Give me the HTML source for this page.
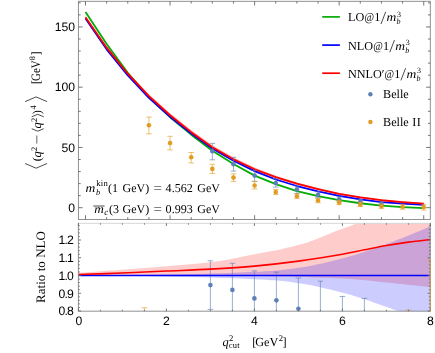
<!DOCTYPE html>
<html><head><meta charset="utf-8"><title>plot</title><style>html,body{margin:0;padding:0;background:#fff}svg{display:block;will-change:transform}text{text-rendering:geometricPrecision}</style></head><body>
<svg width="435" height="353" viewBox="0 0 435 353">
<rect width="435" height="353" fill="#fff"/>
<defs><clipPath id="cb"><rect x="78.40" y="223.30" width="351.90" height="87.90"/></clipPath></defs>
<path clip-path="url(#cb)" d="M78.40,272.66 C85.73,272.16 107.73,270.71 122.40,269.64 C137.07,268.58 151.73,267.51 166.40,266.27 C181.07,265.03 199.40,263.44 210.40,262.19 C221.40,260.93 225.07,260.06 232.40,258.73 C239.73,257.39 247.07,255.62 254.40,254.20 C261.73,252.78 269.07,251.74 276.40,250.21 C283.73,248.67 292.68,246.46 298.40,244.97 C304.12,243.48 305.22,243.25 310.72,241.24 C316.22,239.23 324.51,235.56 331.40,232.90 C338.29,230.24 347.61,226.95 352.08,225.27 C356.55,223.58 352.52,225.06 358.24,222.78 C363.96,220.50 374.37,216.42 386.40,211.60 C398.43,206.78 423.07,196.81 430.40,193.85 L430.40,287.21 C423.07,286.45 399.60,283.96 386.40,282.60 C373.20,281.24 363.08,279.91 351.20,279.05 C339.32,278.19 323.92,277.81 315.12,277.45 C306.32,277.10 308.52,277.16 298.40,276.92 C288.28,276.68 269.07,276.27 254.40,276.03 C239.73,275.80 225.07,275.59 210.40,275.50 C195.73,275.41 188.40,275.41 166.40,275.50 C144.40,275.59 93.07,275.94 78.40,276.03 Z" fill="rgba(255,0,0,0.2)"/>
<path clip-path="url(#cb)" d="M78.40,275.14 C85.73,275.12 107.73,275.06 122.40,274.97 C137.07,274.88 151.73,274.85 166.40,274.61 C181.07,274.38 195.73,274.02 210.40,273.55 C225.07,273.07 242.81,272.33 254.40,271.77 C265.99,271.21 272.59,270.83 279.92,270.18 C287.25,269.52 292.46,268.75 298.40,267.87 C304.34,266.98 306.76,266.83 315.56,264.85 C324.36,262.87 339.32,259.47 351.20,255.97 C363.08,252.48 378.77,246.72 386.84,243.91 C394.91,241.09 393.66,241.48 399.60,239.11 C405.54,236.75 417.35,231.83 422.48,229.70 C427.61,227.57 427.61,227.57 430.40,226.33 C433.19,225.09 437.73,222.93 439.20,222.25 L439.20,328.75 C437.73,328.07 433.19,325.91 430.40,324.67 C427.61,323.43 427.61,323.43 422.48,321.30 C417.35,319.17 405.54,314.25 399.60,311.89 C393.66,309.52 394.91,309.91 386.84,307.09 C378.77,304.28 363.08,298.52 351.20,295.02 C339.32,291.53 324.36,288.13 315.56,286.15 C306.76,284.17 304.34,284.02 298.40,283.13 C292.46,282.25 287.25,281.48 279.92,280.82 C272.59,280.17 265.99,279.79 254.40,279.23 C242.81,278.67 225.07,277.93 210.40,277.45 C195.73,276.98 181.07,276.62 166.40,276.39 C151.73,276.15 137.07,276.12 122.40,276.03 C107.73,275.94 85.73,275.88 78.40,275.86 Z" fill="rgba(0,0,255,0.2)"/>
<g stroke="#5E81B5" stroke-width="0.75" stroke-opacity="0.85" fill="none" clip-path="url(#cb)"><line x1="210.40" y1="260.77" x2="210.40" y2="309.40"/><line x1="207.60" y1="260.77" x2="213.20" y2="260.77"/><line x1="207.60" y1="309.40" x2="213.20" y2="309.40"/></g>
<circle cx="210.40" cy="285.09" r="2.3" fill="#5E81B5" clip-path="url(#cb)"/>
<g stroke="#5E81B5" stroke-width="0.75" stroke-opacity="0.85" fill="none" clip-path="url(#cb)"><line x1="232.40" y1="263.25" x2="232.40" y2="328.75"/><line x1="229.60" y1="263.25" x2="235.20" y2="263.25"/><line x1="229.60" y1="328.75" x2="235.20" y2="328.75"/></g>
<circle cx="232.40" cy="289.88" r="2.3" fill="#5E81B5" clip-path="url(#cb)"/>
<g stroke="#5E81B5" stroke-width="0.75" stroke-opacity="0.85" fill="none" clip-path="url(#cb)"><line x1="254.40" y1="270.88" x2="254.40" y2="328.75"/><line x1="251.60" y1="270.88" x2="257.20" y2="270.88"/><line x1="251.60" y1="328.75" x2="257.20" y2="328.75"/></g>
<circle cx="254.40" cy="298.40" r="2.3" fill="#5E81B5" clip-path="url(#cb)"/>
<g stroke="#5E81B5" stroke-width="0.75" stroke-opacity="0.85" fill="none" clip-path="url(#cb)"><line x1="276.40" y1="272.13" x2="276.40" y2="328.75"/><line x1="273.60" y1="272.13" x2="279.20" y2="272.13"/><line x1="273.60" y1="328.75" x2="279.20" y2="328.75"/></g>
<circle cx="276.40" cy="300.35" r="2.3" fill="#5E81B5" clip-path="url(#cb)"/>
<g stroke="#5E81B5" stroke-width="0.75" stroke-opacity="0.85" fill="none" clip-path="url(#cb)"><line x1="298.40" y1="277.99" x2="298.40" y2="328.75"/><line x1="295.60" y1="277.99" x2="301.20" y2="277.99"/><line x1="295.60" y1="328.75" x2="301.20" y2="328.75"/></g>
<circle cx="298.40" cy="308.69" r="2.3" fill="#5E81B5" clip-path="url(#cb)"/>
<g stroke="#5E81B5" stroke-width="0.75" stroke-opacity="0.85" fill="none" clip-path="url(#cb)"><line x1="320.40" y1="281.18" x2="320.40" y2="346.50"/><line x1="317.60" y1="281.18" x2="323.20" y2="281.18"/><line x1="317.60" y1="346.50" x2="323.20" y2="346.50"/></g>
<g stroke="#5E81B5" stroke-width="0.75" stroke-opacity="0.85" fill="none" clip-path="url(#cb)"><line x1="342.40" y1="296.44" x2="342.40" y2="346.50"/><line x1="339.60" y1="296.44" x2="345.20" y2="296.44"/><line x1="339.60" y1="346.50" x2="345.20" y2="346.50"/></g>
<g stroke="#5E81B5" stroke-width="0.75" stroke-opacity="0.85" fill="none" clip-path="url(#cb)"><line x1="364.40" y1="298.40" x2="364.40" y2="346.50"/><line x1="361.60" y1="298.40" x2="367.20" y2="298.40"/><line x1="361.60" y1="346.50" x2="367.20" y2="346.50"/></g>
<g stroke="#E19C24" stroke-width="0.75" stroke-opacity="0.85" fill="none" clip-path="url(#cb)"><line x1="144.40" y1="307.70" x2="144.40" y2="328.75"/><line x1="141.60" y1="307.70" x2="147.20" y2="307.70"/><line x1="141.60" y1="328.75" x2="147.20" y2="328.75"/></g>
<g stroke="#E19C24" stroke-width="0.75" stroke-opacity="0.85" fill="none" clip-path="url(#cb)"><line x1="408.40" y1="310.00" x2="408.40" y2="328.75"/><line x1="405.60" y1="310.00" x2="411.20" y2="310.00"/><line x1="405.60" y1="328.75" x2="411.20" y2="328.75"/></g>
<line x1="78.40" y1="275.50" x2="430.40" y2="275.50" stroke="#0000ff" stroke-width="1.6"/>
<path d="M78.40,274.44 C85.73,274.20 107.73,273.58 122.40,273.01 C137.07,272.45 151.73,271.71 166.40,271.06 C181.07,270.41 195.73,269.94 210.40,269.11 C225.07,268.28 239.73,267.42 254.40,266.09 C269.07,264.76 283.73,263.10 298.40,261.12 C313.07,259.14 331.40,256.09 342.40,254.20 C353.40,252.31 357.07,251.21 364.40,249.76 C371.73,248.31 379.07,246.77 386.40,245.50 C393.73,244.23 401.07,243.14 408.40,242.13 C415.73,241.12 426.73,239.91 430.40,239.47" fill="none" stroke="#ff0000" stroke-width="1.6"/>
<polygon points="85.50,16.35 106.64,46.47 127.78,72.14 148.92,94.19 170.06,113.23 191.20,130.10 212.34,145.16 233.48,157.33 254.62,167.45 275.76,175.65 296.90,182.39 318.04,187.94 339.18,192.88 360.32,196.61 381.46,199.51 402.60,201.43 423.74,203.00 423.74,204.21 402.60,202.64 381.46,200.95 360.32,198.30 339.18,194.81 318.04,190.11 296.90,185.05 275.76,178.78 254.62,171.07 233.48,161.19 212.34,149.26 191.20,134.19 170.06,117.32 148.92,98.04 127.78,75.27 106.64,48.88 85.50,18.27" fill="rgba(255,0,0,0.28)"/>
<path d="M85.50,11.89 L106.64,43.94 L127.78,72.74 L148.92,97.32 L170.06,117.20 L191.20,134.68 L212.34,150.70 L233.48,164.08 L254.62,175.65 L275.76,184.08 L296.90,191.07 L318.04,196.13 L339.18,200.23 L360.32,203.24 L381.46,205.53 L402.60,207.10 L423.74,208.06" fill="none" stroke="#05ab05" stroke-width="1.8" stroke-linejoin="round"/>
<path d="M85.50,18.39 L106.64,49.36 L127.78,75.39 L148.92,97.80 L170.06,116.84 L191.20,133.59 L212.34,148.53 L233.48,160.70 L254.62,171.07 L275.76,179.50 L296.90,186.01 L318.04,191.31 L339.18,195.77 L360.32,199.39 L381.46,202.04 L402.60,203.72 L423.74,204.81" fill="none" stroke="#0000ff" stroke-width="1.8" stroke-linejoin="round"/>
<path d="M85.50,17.31 L106.64,47.68 L127.78,73.70 L148.92,96.12 L170.06,115.28 L191.20,132.15 L212.34,147.21 L233.48,159.26 L254.62,169.26 L275.76,177.21 L296.90,183.72 L318.04,189.02 L339.18,193.84 L360.32,197.46 L381.46,200.23 L402.60,202.04 L423.74,203.60" fill="none" stroke="#ff0000" stroke-width="1.8" stroke-linejoin="round"/>
<g stroke="#5E81B5" stroke-width="0.75" stroke-opacity="0.85" fill="none"><line x1="212.34" y1="143.40" x2="212.34" y2="159.80"/><line x1="209.54" y1="143.40" x2="215.14" y2="143.40"/><line x1="209.54" y1="159.80" x2="215.14" y2="159.80"/></g>
<circle cx="212.34" cy="151.30" r="2.3" fill="#5E81B5"/>
<g stroke="#5E81B5" stroke-width="0.75" stroke-opacity="0.85" fill="none"><line x1="233.48" y1="157.30" x2="233.48" y2="171.10"/><line x1="230.68" y1="157.30" x2="236.28" y2="157.30"/><line x1="230.68" y1="171.10" x2="236.28" y2="171.10"/></g>
<circle cx="233.48" cy="164.30" r="2.3" fill="#5E81B5"/>
<g stroke="#5E81B5" stroke-width="0.75" stroke-opacity="0.85" fill="none"><line x1="254.62" y1="170.30" x2="254.62" y2="181.40"/><line x1="251.82" y1="170.30" x2="257.42" y2="170.30"/><line x1="251.82" y1="181.40" x2="257.42" y2="181.40"/></g>
<circle cx="254.62" cy="175.60" r="2.3" fill="#5E81B5"/>
<g stroke="#5E81B5" stroke-width="0.75" stroke-opacity="0.85" fill="none"><line x1="275.76" y1="178.60" x2="275.76" y2="187.10"/><line x1="272.96" y1="178.60" x2="278.56" y2="178.60"/><line x1="272.96" y1="187.10" x2="278.56" y2="187.10"/></g>
<circle cx="275.76" cy="183.00" r="2.3" fill="#5E81B5"/>
<g stroke="#5E81B5" stroke-width="0.75" stroke-opacity="0.85" fill="none"><line x1="296.90" y1="186.00" x2="296.90" y2="193.60"/><line x1="294.10" y1="186.00" x2="299.70" y2="186.00"/><line x1="294.10" y1="193.60" x2="299.70" y2="193.60"/></g>
<circle cx="296.90" cy="189.40" r="2.3" fill="#5E81B5"/>
<g stroke="#5E81B5" stroke-width="0.75" stroke-opacity="0.85" fill="none"><line x1="318.04" y1="191.70" x2="318.04" y2="197.70"/><line x1="315.24" y1="191.70" x2="320.84" y2="191.70"/><line x1="315.24" y1="197.70" x2="320.84" y2="197.70"/></g>
<circle cx="318.04" cy="194.70" r="2.3" fill="#5E81B5"/>
<g stroke="#5E81B5" stroke-width="0.75" stroke-opacity="0.85" fill="none"><line x1="339.18" y1="196.80" x2="339.18" y2="201.80"/><line x1="336.38" y1="196.80" x2="341.98" y2="196.80"/><line x1="336.38" y1="201.80" x2="341.98" y2="201.80"/></g>
<circle cx="339.18" cy="199.30" r="2.3" fill="#5E81B5"/>
<g stroke="#5E81B5" stroke-width="0.75" stroke-opacity="0.85" fill="none"><line x1="360.32" y1="199.50" x2="360.32" y2="203.50"/><line x1="357.52" y1="199.50" x2="363.12" y2="199.50"/><line x1="357.52" y1="203.50" x2="363.12" y2="203.50"/></g>
<circle cx="360.32" cy="201.50" r="2.3" fill="#5E81B5"/>
<g stroke="#5E81B5" stroke-width="0.75" stroke-opacity="0.85" fill="none"><line x1="381.46" y1="201.90" x2="381.46" y2="205.90"/><line x1="378.66" y1="201.90" x2="384.26" y2="201.90"/><line x1="378.66" y1="205.90" x2="384.26" y2="205.90"/></g>
<circle cx="381.46" cy="203.90" r="2.3" fill="#5E81B5"/>
<g stroke="#E19C24" stroke-width="0.75" stroke-opacity="0.85" fill="none"><line x1="148.92" y1="117.10" x2="148.92" y2="133.80"/><line x1="146.12" y1="117.10" x2="151.72" y2="117.10"/><line x1="146.12" y1="133.80" x2="151.72" y2="133.80"/></g>
<circle cx="148.92" cy="125.30" r="2.3" fill="#E19C24"/>
<g stroke="#E19C24" stroke-width="0.75" stroke-opacity="0.85" fill="none"><line x1="170.06" y1="136.30" x2="170.06" y2="149.90"/><line x1="167.26" y1="136.30" x2="172.86" y2="136.30"/><line x1="167.26" y1="149.90" x2="172.86" y2="149.90"/></g>
<circle cx="170.06" cy="143.10" r="2.3" fill="#E19C24"/>
<g stroke="#E19C24" stroke-width="0.75" stroke-opacity="0.85" fill="none"><line x1="191.20" y1="152.50" x2="191.20" y2="162.90"/><line x1="188.40" y1="152.50" x2="194.00" y2="152.50"/><line x1="188.40" y1="162.90" x2="194.00" y2="162.90"/></g>
<circle cx="191.20" cy="157.30" r="2.3" fill="#E19C24"/>
<g stroke="#E19C24" stroke-width="0.75" stroke-opacity="0.85" fill="none"><line x1="212.34" y1="164.30" x2="212.34" y2="173.40"/><line x1="209.54" y1="164.30" x2="215.14" y2="164.30"/><line x1="209.54" y1="173.40" x2="215.14" y2="173.40"/></g>
<circle cx="212.34" cy="168.90" r="2.3" fill="#E19C24"/>
<g stroke="#E19C24" stroke-width="0.75" stroke-opacity="0.85" fill="none"><line x1="233.48" y1="173.80" x2="233.48" y2="181.40"/><line x1="230.68" y1="173.80" x2="236.28" y2="173.80"/><line x1="230.68" y1="181.40" x2="236.28" y2="181.40"/></g>
<circle cx="233.48" cy="177.60" r="2.3" fill="#E19C24"/>
<g stroke="#E19C24" stroke-width="0.75" stroke-opacity="0.85" fill="none"><line x1="254.62" y1="181.40" x2="254.62" y2="189.00"/><line x1="251.82" y1="181.40" x2="257.42" y2="181.40"/><line x1="251.82" y1="189.00" x2="257.42" y2="189.00"/></g>
<circle cx="254.62" cy="185.50" r="2.3" fill="#E19C24"/>
<g stroke="#E19C24" stroke-width="0.75" stroke-opacity="0.85" fill="none"><line x1="275.76" y1="189.40" x2="275.76" y2="194.50"/><line x1="272.96" y1="189.40" x2="278.56" y2="189.40"/><line x1="272.96" y1="194.50" x2="278.56" y2="194.50"/></g>
<circle cx="275.76" cy="192.00" r="2.3" fill="#E19C24"/>
<g stroke="#E19C24" stroke-width="0.75" stroke-opacity="0.85" fill="none"><line x1="296.90" y1="193.80" x2="296.90" y2="198.60"/><line x1="294.10" y1="193.80" x2="299.70" y2="193.80"/><line x1="294.10" y1="198.60" x2="299.70" y2="198.60"/></g>
<circle cx="296.90" cy="196.30" r="2.3" fill="#E19C24"/>
<g stroke="#E19C24" stroke-width="0.75" stroke-opacity="0.85" fill="none"><line x1="318.04" y1="198.30" x2="318.04" y2="202.70"/><line x1="315.24" y1="198.30" x2="320.84" y2="198.30"/><line x1="315.24" y1="202.70" x2="320.84" y2="202.70"/></g>
<circle cx="318.04" cy="200.50" r="2.3" fill="#E19C24"/>
<g stroke="#E19C24" stroke-width="0.75" stroke-opacity="0.85" fill="none"><line x1="339.18" y1="200.30" x2="339.18" y2="204.70"/><line x1="336.38" y1="200.30" x2="341.98" y2="200.30"/><line x1="336.38" y1="204.70" x2="341.98" y2="204.70"/></g>
<circle cx="339.18" cy="202.50" r="2.3" fill="#E19C24"/>
<g stroke="#E19C24" stroke-width="0.75" stroke-opacity="0.85" fill="none"><line x1="360.32" y1="202.20" x2="360.32" y2="206.60"/><line x1="357.52" y1="202.20" x2="363.12" y2="202.20"/><line x1="357.52" y1="206.60" x2="363.12" y2="206.60"/></g>
<circle cx="360.32" cy="204.40" r="2.3" fill="#E19C24"/>
<g stroke="#E19C24" stroke-width="0.75" stroke-opacity="0.85" fill="none"><line x1="381.46" y1="204.00" x2="381.46" y2="208.40"/><line x1="378.66" y1="204.00" x2="384.26" y2="204.00"/><line x1="378.66" y1="208.40" x2="384.26" y2="208.40"/></g>
<circle cx="381.46" cy="206.20" r="2.3" fill="#E19C24"/>
<g stroke="#E19C24" stroke-width="0.75" stroke-opacity="0.85" fill="none"><line x1="402.60" y1="204.20" x2="402.60" y2="209.20"/><line x1="399.80" y1="204.20" x2="405.40" y2="204.20"/><line x1="399.80" y1="209.20" x2="405.40" y2="209.20"/></g>
<circle cx="402.60" cy="206.70" r="2.3" fill="#E19C24"/>
<g stroke="#E19C24" stroke-width="0.75" stroke-opacity="0.85" fill="none"><line x1="423.74" y1="204.40" x2="423.74" y2="210.10"/><line x1="420.94" y1="204.40" x2="426.54" y2="204.40"/><line x1="420.94" y1="210.10" x2="426.54" y2="210.10"/></g>
<circle cx="423.74" cy="207.10" r="2.3" fill="#E19C24"/>
<rect x="78.40" y="1.30" width="351.90" height="218.15" stroke="#858585" stroke-width="0.9" fill="none"/>
<g stroke="#666666" stroke-width="0.9" fill="none">
<line x1="85.50" y1="219.45" x2="85.50" y2="215.25"/>
<line x1="85.50" y1="1.30" x2="85.50" y2="5.50"/>
<line x1="106.64" y1="219.45" x2="106.64" y2="217.15"/>
<line x1="106.64" y1="1.30" x2="106.64" y2="3.60"/>
<line x1="127.78" y1="219.45" x2="127.78" y2="217.15"/>
<line x1="127.78" y1="1.30" x2="127.78" y2="3.60"/>
<line x1="148.92" y1="219.45" x2="148.92" y2="217.15"/>
<line x1="148.92" y1="1.30" x2="148.92" y2="3.60"/>
<line x1="170.06" y1="219.45" x2="170.06" y2="215.25"/>
<line x1="170.06" y1="1.30" x2="170.06" y2="5.50"/>
<line x1="191.20" y1="219.45" x2="191.20" y2="217.15"/>
<line x1="191.20" y1="1.30" x2="191.20" y2="3.60"/>
<line x1="212.34" y1="219.45" x2="212.34" y2="217.15"/>
<line x1="212.34" y1="1.30" x2="212.34" y2="3.60"/>
<line x1="233.48" y1="219.45" x2="233.48" y2="217.15"/>
<line x1="233.48" y1="1.30" x2="233.48" y2="3.60"/>
<line x1="254.62" y1="219.45" x2="254.62" y2="215.25"/>
<line x1="254.62" y1="1.30" x2="254.62" y2="5.50"/>
<line x1="275.76" y1="219.45" x2="275.76" y2="217.15"/>
<line x1="275.76" y1="1.30" x2="275.76" y2="3.60"/>
<line x1="296.90" y1="219.45" x2="296.90" y2="217.15"/>
<line x1="296.90" y1="1.30" x2="296.90" y2="3.60"/>
<line x1="318.04" y1="219.45" x2="318.04" y2="217.15"/>
<line x1="318.04" y1="1.30" x2="318.04" y2="3.60"/>
<line x1="339.18" y1="219.45" x2="339.18" y2="215.25"/>
<line x1="339.18" y1="1.30" x2="339.18" y2="5.50"/>
<line x1="360.32" y1="219.45" x2="360.32" y2="217.15"/>
<line x1="360.32" y1="1.30" x2="360.32" y2="3.60"/>
<line x1="381.46" y1="219.45" x2="381.46" y2="217.15"/>
<line x1="381.46" y1="1.30" x2="381.46" y2="3.60"/>
<line x1="402.60" y1="219.45" x2="402.60" y2="217.15"/>
<line x1="402.60" y1="1.30" x2="402.60" y2="3.60"/>
<line x1="423.74" y1="219.45" x2="423.74" y2="215.25"/>
<line x1="423.74" y1="1.30" x2="423.74" y2="5.50"/>
<line x1="78.40" y1="207.70" x2="82.60" y2="207.70"/>
<line x1="430.30" y1="207.70" x2="426.10" y2="207.70"/>
<line x1="78.40" y1="195.65" x2="80.70" y2="195.65"/>
<line x1="430.30" y1="195.65" x2="428.00" y2="195.65"/>
<line x1="78.40" y1="183.60" x2="80.70" y2="183.60"/>
<line x1="430.30" y1="183.60" x2="428.00" y2="183.60"/>
<line x1="78.40" y1="171.55" x2="80.70" y2="171.55"/>
<line x1="430.30" y1="171.55" x2="428.00" y2="171.55"/>
<line x1="78.40" y1="159.50" x2="80.70" y2="159.50"/>
<line x1="430.30" y1="159.50" x2="428.00" y2="159.50"/>
<line x1="78.40" y1="147.45" x2="82.60" y2="147.45"/>
<line x1="430.30" y1="147.45" x2="426.10" y2="147.45"/>
<line x1="78.40" y1="135.40" x2="80.70" y2="135.40"/>
<line x1="430.30" y1="135.40" x2="428.00" y2="135.40"/>
<line x1="78.40" y1="123.35" x2="80.70" y2="123.35"/>
<line x1="430.30" y1="123.35" x2="428.00" y2="123.35"/>
<line x1="78.40" y1="111.30" x2="80.70" y2="111.30"/>
<line x1="430.30" y1="111.30" x2="428.00" y2="111.30"/>
<line x1="78.40" y1="99.25" x2="80.70" y2="99.25"/>
<line x1="430.30" y1="99.25" x2="428.00" y2="99.25"/>
<line x1="78.40" y1="87.20" x2="82.60" y2="87.20"/>
<line x1="430.30" y1="87.20" x2="426.10" y2="87.20"/>
<line x1="78.40" y1="75.15" x2="80.70" y2="75.15"/>
<line x1="430.30" y1="75.15" x2="428.00" y2="75.15"/>
<line x1="78.40" y1="63.10" x2="80.70" y2="63.10"/>
<line x1="430.30" y1="63.10" x2="428.00" y2="63.10"/>
<line x1="78.40" y1="51.05" x2="80.70" y2="51.05"/>
<line x1="430.30" y1="51.05" x2="428.00" y2="51.05"/>
<line x1="78.40" y1="39.00" x2="80.70" y2="39.00"/>
<line x1="430.30" y1="39.00" x2="428.00" y2="39.00"/>
<line x1="78.40" y1="26.95" x2="82.60" y2="26.95"/>
<line x1="430.30" y1="26.95" x2="426.10" y2="26.95"/>
<line x1="78.40" y1="14.90" x2="80.70" y2="14.90"/>
<line x1="430.30" y1="14.90" x2="428.00" y2="14.90"/>
<line x1="78.40" y1="2.85" x2="80.70" y2="2.85"/>
<line x1="430.30" y1="2.85" x2="428.00" y2="2.85"/>
</g>
<line x1="78.40" y1="223.30" x2="430.30" y2="223.30" stroke="#d6d6d6" stroke-width="1"/>
<path d="M78.40,222.80 V311.20 H430.30 V222.80" stroke="#858585" stroke-width="0.9" fill="none"/>
<g stroke="#666666" stroke-width="0.9" fill="none">
<line x1="78.40" y1="311.20" x2="78.40" y2="308.60"/>
<line x1="78.40" y1="223.30" x2="78.40" y2="225.90"/>
<line x1="100.40" y1="311.20" x2="100.40" y2="309.80"/>
<line x1="100.40" y1="223.30" x2="100.40" y2="224.70"/>
<line x1="122.40" y1="311.20" x2="122.40" y2="309.80"/>
<line x1="122.40" y1="223.30" x2="122.40" y2="224.70"/>
<line x1="144.40" y1="311.20" x2="144.40" y2="309.80"/>
<line x1="144.40" y1="223.30" x2="144.40" y2="224.70"/>
<line x1="166.40" y1="311.20" x2="166.40" y2="308.60"/>
<line x1="166.40" y1="223.30" x2="166.40" y2="225.90"/>
<line x1="188.40" y1="311.20" x2="188.40" y2="309.80"/>
<line x1="188.40" y1="223.30" x2="188.40" y2="224.70"/>
<line x1="210.40" y1="311.20" x2="210.40" y2="309.80"/>
<line x1="210.40" y1="223.30" x2="210.40" y2="224.70"/>
<line x1="232.40" y1="311.20" x2="232.40" y2="309.80"/>
<line x1="232.40" y1="223.30" x2="232.40" y2="224.70"/>
<line x1="254.40" y1="311.20" x2="254.40" y2="308.60"/>
<line x1="254.40" y1="223.30" x2="254.40" y2="225.90"/>
<line x1="276.40" y1="311.20" x2="276.40" y2="309.80"/>
<line x1="276.40" y1="223.30" x2="276.40" y2="224.70"/>
<line x1="298.40" y1="311.20" x2="298.40" y2="309.80"/>
<line x1="298.40" y1="223.30" x2="298.40" y2="224.70"/>
<line x1="320.40" y1="311.20" x2="320.40" y2="309.80"/>
<line x1="320.40" y1="223.30" x2="320.40" y2="224.70"/>
<line x1="342.40" y1="311.20" x2="342.40" y2="308.60"/>
<line x1="342.40" y1="223.30" x2="342.40" y2="225.90"/>
<line x1="364.40" y1="311.20" x2="364.40" y2="309.80"/>
<line x1="364.40" y1="223.30" x2="364.40" y2="224.70"/>
<line x1="386.40" y1="311.20" x2="386.40" y2="309.80"/>
<line x1="386.40" y1="223.30" x2="386.40" y2="224.70"/>
<line x1="408.40" y1="311.20" x2="408.40" y2="309.80"/>
<line x1="408.40" y1="223.30" x2="408.40" y2="224.70"/>
<line x1="430.40" y1="311.20" x2="430.40" y2="308.60"/>
<line x1="430.40" y1="223.30" x2="430.40" y2="225.90"/>
<line x1="78.40" y1="311.00" x2="81.00" y2="311.00"/>
<line x1="430.30" y1="311.00" x2="427.70" y2="311.00"/>
<line x1="78.40" y1="307.45" x2="79.80" y2="307.45"/>
<line x1="430.30" y1="307.45" x2="428.90" y2="307.45"/>
<line x1="78.40" y1="303.90" x2="79.80" y2="303.90"/>
<line x1="430.30" y1="303.90" x2="428.90" y2="303.90"/>
<line x1="78.40" y1="300.35" x2="79.80" y2="300.35"/>
<line x1="430.30" y1="300.35" x2="428.90" y2="300.35"/>
<line x1="78.40" y1="296.80" x2="79.80" y2="296.80"/>
<line x1="430.30" y1="296.80" x2="428.90" y2="296.80"/>
<line x1="78.40" y1="293.25" x2="81.00" y2="293.25"/>
<line x1="430.30" y1="293.25" x2="427.70" y2="293.25"/>
<line x1="78.40" y1="289.70" x2="79.80" y2="289.70"/>
<line x1="430.30" y1="289.70" x2="428.90" y2="289.70"/>
<line x1="78.40" y1="286.15" x2="79.80" y2="286.15"/>
<line x1="430.30" y1="286.15" x2="428.90" y2="286.15"/>
<line x1="78.40" y1="282.60" x2="79.80" y2="282.60"/>
<line x1="430.30" y1="282.60" x2="428.90" y2="282.60"/>
<line x1="78.40" y1="279.05" x2="79.80" y2="279.05"/>
<line x1="430.30" y1="279.05" x2="428.90" y2="279.05"/>
<line x1="78.40" y1="275.50" x2="81.00" y2="275.50"/>
<line x1="430.30" y1="275.50" x2="427.70" y2="275.50"/>
<line x1="78.40" y1="271.95" x2="79.80" y2="271.95"/>
<line x1="430.30" y1="271.95" x2="428.90" y2="271.95"/>
<line x1="78.40" y1="268.40" x2="79.80" y2="268.40"/>
<line x1="430.30" y1="268.40" x2="428.90" y2="268.40"/>
<line x1="78.40" y1="264.85" x2="79.80" y2="264.85"/>
<line x1="430.30" y1="264.85" x2="428.90" y2="264.85"/>
<line x1="78.40" y1="261.30" x2="79.80" y2="261.30"/>
<line x1="430.30" y1="261.30" x2="428.90" y2="261.30"/>
<line x1="78.40" y1="257.75" x2="81.00" y2="257.75"/>
<line x1="430.30" y1="257.75" x2="427.70" y2="257.75"/>
<line x1="78.40" y1="254.20" x2="79.80" y2="254.20"/>
<line x1="430.30" y1="254.20" x2="428.90" y2="254.20"/>
<line x1="78.40" y1="250.65" x2="79.80" y2="250.65"/>
<line x1="430.30" y1="250.65" x2="428.90" y2="250.65"/>
<line x1="78.40" y1="247.10" x2="79.80" y2="247.10"/>
<line x1="430.30" y1="247.10" x2="428.90" y2="247.10"/>
<line x1="78.40" y1="243.55" x2="79.80" y2="243.55"/>
<line x1="430.30" y1="243.55" x2="428.90" y2="243.55"/>
<line x1="78.40" y1="240.00" x2="81.00" y2="240.00"/>
<line x1="430.30" y1="240.00" x2="427.70" y2="240.00"/>
<line x1="78.40" y1="236.45" x2="79.80" y2="236.45"/>
<line x1="430.30" y1="236.45" x2="428.90" y2="236.45"/>
<line x1="78.40" y1="232.90" x2="79.80" y2="232.90"/>
<line x1="430.30" y1="232.90" x2="428.90" y2="232.90"/>
<line x1="78.40" y1="229.35" x2="79.80" y2="229.35"/>
<line x1="430.30" y1="229.35" x2="428.90" y2="229.35"/>
<line x1="78.40" y1="225.80" x2="79.80" y2="225.80"/>
<line x1="430.30" y1="225.80" x2="428.90" y2="225.80"/>
</g>
<g stroke="#E19C24" stroke-width="0.8" stroke-opacity="0.75" fill="none"><line x1="430.30" y1="259.6" x2="430.30" y2="311.20"/><line x1="427.7" y1="259.6" x2="430.70" y2="259.6"/></g>
<g font-family="Liberation Sans, sans-serif" font-size="12.2" fill="#000" text-anchor="end">
<text x="75.0" y="211.95">0</text>
<text x="75.0" y="151.70">50</text>
<text x="75.0" y="91.45">100</text>
<text x="75.0" y="31.20">150</text>
<text x="73.1" y="315.25" letter-spacing="-0.75">0.8</text>
<text x="73.1" y="297.50" letter-spacing="-0.75">0.9</text>
<text x="73.1" y="279.75" letter-spacing="-0.75">1.0</text>
<text x="73.1" y="262.00" letter-spacing="-0.75">1.1</text>
<text x="73.1" y="244.25" letter-spacing="-0.75">1.2</text>
</g>
<g font-family="Liberation Sans, sans-serif" font-size="12.2" fill="#000" text-anchor="middle">
<text x="78.90" y="325.3">0</text>
<text x="166.40" y="325.3">2</text>
<text x="254.40" y="325.3">4</text>
<text x="342.40" y="325.3">6</text>
<text x="430.40" y="325.3">8</text>
</g>
<g font-family="Liberation Serif, serif" fill="#000">
<line x1="322.2" y1="16.9" x2="339.9" y2="16.9" stroke="#05ab05" stroke-width="1.7"/>
<line x1="322.2" y1="45.1" x2="339.9" y2="45.1" stroke="#0000ff" stroke-width="1.7"/>
<line x1="322.2" y1="73.2" x2="339.9" y2="73.2" stroke="#ff0000" stroke-width="1.7"/>
<circle cx="370.4" cy="94.2" r="2.2" fill="#5E81B5"/>
<circle cx="370.4" cy="122" r="2.2" fill="#E19C24"/>
<text x="348.00" y="21.40" font-size="12.2">LO</text>
<text x="364.60" y="21.40" font-size="12.2" textLength="9.6" lengthAdjust="spacingAndGlyphs">@</text>
<text x="374.30" y="21.40" font-size="12.2">1</text>
<path d="M381.00,24.00 L385.70,11.80" stroke="#000" stroke-width="0.7" fill="none"/>
<text x="386.60" y="21.40" font-size="12.2" font-style="italic" textLength="9.8" lengthAdjust="spacingAndGlyphs">m</text>
<text x="396.60" y="24.20" font-size="8" font-style="italic">b</text>
<text x="397.10" y="16.60" font-size="8">3</text>
<text x="348.00" y="49.70" font-size="12.2">NLO</text>
<text x="373.35" y="49.70" font-size="12.2" textLength="9.6" lengthAdjust="spacingAndGlyphs">@</text>
<text x="383.05" y="49.70" font-size="12.2">1</text>
<path d="M389.75,52.30 L394.45,40.10" stroke="#000" stroke-width="0.7" fill="none"/>
<text x="395.35" y="49.70" font-size="12.2" font-style="italic" textLength="9.8" lengthAdjust="spacingAndGlyphs">m</text>
<text x="405.35" y="52.50" font-size="8" font-style="italic">b</text>
<text x="405.85" y="44.90" font-size="8">3</text>
<text x="348.00" y="77.80" font-size="12.2">NNLO′</text>
<text x="384.50" y="77.80" font-size="12.2" textLength="9.6" lengthAdjust="spacingAndGlyphs">@</text>
<text x="394.20" y="77.80" font-size="12.2">1</text>
<path d="M400.90,80.40 L405.60,68.20" stroke="#000" stroke-width="0.7" fill="none"/>
<text x="406.50" y="77.80" font-size="12.2" font-style="italic" textLength="9.8" lengthAdjust="spacingAndGlyphs">m</text>
<text x="416.50" y="80.60" font-size="8" font-style="italic">b</text>
<text x="417.00" y="73.00" font-size="8">3</text>
<text x="383.00" y="97.80" font-size="12.2">Belle</text>
<text x="383.00" y="125.60" font-size="12.2">Belle</text>
<text x="412.30" y="125.60" font-size="12.2" letter-spacing="0.3">II</text>
<text x="85.50" y="191.70" font-size="12.2" font-style="italic" textLength="9.8" lengthAdjust="spacingAndGlyphs">m</text>
<text x="95.90" y="194.90" font-size="8.4" font-style="italic">b</text>
<text x="96.30" y="186.10" font-size="8.6" letter-spacing="0.2">kin</text>
<text x="108.00" y="191.70" font-size="12">(1</text>
<text x="122.60" y="191.70" font-size="12">GeV)</text>
<text x="153.60" y="191.70" font-size="12" textLength="8.5" lengthAdjust="spacingAndGlyphs">=</text>
<text x="165.60" y="191.70" font-size="12.1">4.562</text>
<text x="197.30" y="191.70" font-size="12">GeV</text>
<text x="94.20" y="212.50" font-size="12.2" font-style="italic" textLength="9.6" lengthAdjust="spacingAndGlyphs">m</text>
<text x="104.20" y="214.70" font-size="9" font-style="italic">c</text>
<text x="109.00" y="212.50" font-size="12">(3</text>
<text x="122.60" y="212.50" font-size="12">GeV)</text>
<text x="153.60" y="212.50" font-size="12" textLength="8.5" lengthAdjust="spacingAndGlyphs">=</text>
<text x="165.60" y="212.50" font-size="12.1">0.993</text>
<text x="197.30" y="212.50" font-size="12">GeV</text>
<text x="222.60" y="345.50" font-size="12.4" font-style="italic">q</text>
<text x="229.00" y="341.10" font-size="8.6">2</text>
<text x="228.80" y="347.80" font-size="8.5" letter-spacing="0.25">cut</text>
<text x="252.30" y="345.50" font-size="12.4">[</text>
<text x="255.20" y="345.50" font-size="12.4" textLength="23.2" lengthAdjust="spacingAndGlyphs">GeV</text>
<text x="278.70" y="341.10" font-size="8.6">2</text>
<text x="282.60" y="345.50" font-size="12.4">]</text>
</g>
<line x1="93.3" y1="206.0" x2="104.6" y2="206.0" stroke="#000" stroke-width="0.7"/>
<text transform="translate(44.7,303.0) rotate(-90)" font-family="Liberation Serif, serif" font-size="12.9" textLength="71.8" lengthAdjust="spacing">Ratio to NLO</text>
<g transform="translate(40.1,168.5) rotate(-90)" font-family="Liberation Serif, serif" fill="#000">
<path d="M5.0,-15 L0.3,-4.0 L5.0,7" fill="none" stroke="#000" stroke-width="0.7"/>
<text x="7.20" y="1.00" font-size="12.4">(</text>
<text x="11.00" y="1.00" font-size="12.4" font-style="italic">q</text>
<text x="17.60" y="-3.60" font-size="8.4">2</text>
<text x="24.20" y="1.00" font-size="12.4" textLength="9.6" lengthAdjust="spacingAndGlyphs">−</text>
<path d="M39.8,-8.4 L37.3,-2.4 L39.8,3.6" fill="none" stroke="#000" stroke-width="0.7"/>
<text x="40.00" y="1.00" font-size="12.4" font-style="italic">q</text>
<text x="46.50" y="-3.60" font-size="8.4">2</text>
<path d="M51.7,-8.4 L54.2,-2.4 L51.7,3.6" fill="none" stroke="#000" stroke-width="0.7"/>
<text x="54.20" y="1.00" font-size="12.4">)</text>
<text x="59.00" y="-4.00" font-size="8.4">4</text>
<path d="M66.9,-15 L71.6,-4.0 L66.9,7" fill="none" stroke="#000" stroke-width="0.7"/>
<text x="84.20" y="-0.20" font-size="12.6">[</text>
<text x="87.60" y="-0.30" font-size="12.8" textLength="20.6" lengthAdjust="spacingAndGlyphs">GeV</text>
<text x="108.30" y="-4.90" font-size="8.4">8</text>
<text x="113.00" y="-0.20" font-size="12.6">]</text>
</g>
</svg>
</body></html>
